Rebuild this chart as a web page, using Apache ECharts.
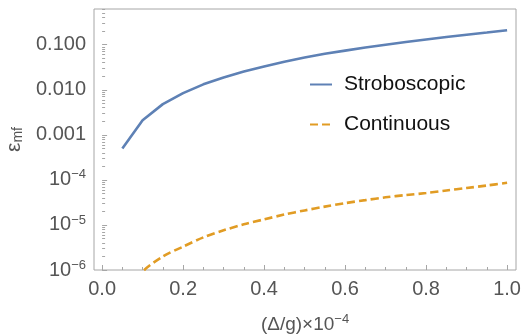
<!DOCTYPE html>
<html>
<head>
<meta charset="utf-8">
<script src="https://cdn.jsdelivr.net/npm/echarts@6/dist/echarts.min.js"></script>
<style>
  html, body { margin: 0; padding: 0; background: #fff; }
  #chart { width: 523px; height: 335px; }
</style>
</head>
<body>
<div id="chart"></div>
<script>
// x positions (Δ/g ×10^-4)
const xs = [0.05, 0.1, 0.15, 0.2, 0.25, 0.3, 0.35, 0.4, 0.45, 0.5,
  0.55, 0.6, 0.65, 0.7, 0.75, 0.8, 0.85, 0.9, 0.95, 1.0]
const strobo = [5.0e-4, 2.1e-3, 4.8e-3, 8.4e-3, 0.0132, 0.0188, 0.0255, 0.033, 0.042, 0.052,
  0.063, 0.074, 0.087, 0.1, 0.115, 0.131, 0.148, 0.166, 0.186, 0.21]
const cont = [2.3e-7, 9.2e-7, 2.0e-6, 3.3e-6, 5.3e-6, 7.6e-6, 1.03e-5, 1.33e-5, 1.7e-5, 2.1e-5,
  2.55e-5, 3.05e-5, 3.55e-5, 4.1e-5, 4.6e-5, 5.1e-5, 5.8e-5, 6.6e-5, 7.5e-5, 8.6e-5]

const xMajor = [0, 0.2, 0.4, 0.6, 0.8, 1.0]
const xMinor = [0.05, 0.1, 0.15, 0.25, 0.3, 0.35, 0.45, 0.5, 0.55, 0.65, 0.7, 0.75, 0.85, 0.9, 0.95]
const yMajor = [1e-6, 1e-5, 1e-4, 1e-3, 1e-2, 1e-1]
const yMinor = []
for (let k = -6; k <= -1; k++) {
  for (let m = 2; m <= 9; m++) {
    const v = m * Math.pow(10, k)
    if (v < 0.62) yMinor.push(v)
  }
}

const gray = '#a6a6a6'
const labelColor = '#555'
const font = 'Liberation Sans, Arial, sans-serif'

function yLabel(v) {
  const e = Math.round(Math.log10(v))
  if (e >= -3) return v.toFixed(3)
  return '10{sup|' + String(e).replace('-', '\u2212') + '}'
}

const chart = echarts.init(document.getElementById('chart'))

const baseX = {
  type: 'value',
  position: 'bottom',
  offset: 0,
  min: -0.02,
  max: 1.022,
  splitLine: { show: false },
  axisLine: { show: false }
}
const baseY = {
  type: 'log',
  logBase: 10,
  position: 'left',
  offset: 0,
  min: 1e-6,
  max: 0.62,
  splitLine: { show: false },
  axisLine: { show: false }
}

chart.setOption({
  animation: false,
  grid: {
    left: 94, right: 7, top: 9, bottom: 65,
    outerBoundsMode: 'none',
    containLabel: false,
    show: true, borderColor: gray, borderWidth: 1, backgroundColor: 'transparent'
  },
  legend: {
    orient: 'vertical',
    left: 304,
    top: 69,
    itemWidth: 22,
    itemHeight: 14,
    itemGap: 19,
    itemStyle: { opacity: 0 },
    textStyle: { fontSize: 21, color: '#111', fontFamily: font, padding: [0, 0, 0, 7] },
    data: ['Stroboscopic', 'Continuous']
  },
  xAxis: [
    Object.assign({}, baseX, {
      axisTick: { inside: true, length: 5, lineStyle: { color: gray }, customValues: xMajor },
      axisLabel: {
        customValues: xMajor, color: labelColor, fontSize: 20, fontFamily: font, margin: 9,
        formatter: v => v.toFixed(1)
      },
      name: '(\u0394/g)\u00d710{sup|\u22124}',
      nameLocation: 'middle',
      nameGap: 43,
      nameTextStyle: {
        color: labelColor, fontSize: 19, fontFamily: font,
        rich: { sup: { fontSize: 13, color: labelColor, fontFamily: font, padding: [0, 0, 10, 0] } }
      }
    }),
    Object.assign({}, baseX, {
      axisTick: { inside: true, length: 3, lineStyle: { color: gray }, customValues: xMinor },
      axisLabel: { show: false }
    })
  ],
  yAxis: [
    Object.assign({}, baseY, {
      axisTick: { inside: true, length: 5, lineStyle: { color: gray }, customValues: yMajor },
      axisLabel: {
        customValues: yMajor, color: labelColor, fontSize: 20, fontFamily: font, margin: 8,
        formatter: yLabel,
        rich: { sup: { fontSize: 13, color: labelColor, fontFamily: font, padding: [0, 0, 10, 0] } }
      },
      name: '\u03b5{sub|mf}',
      nameLocation: 'middle',
      nameRotate: 90,
      nameGap: 66,
      nameTextStyle: {
        color: labelColor, fontSize: 21, fontFamily: font,
        rich: { sub: { fontSize: 14, color: labelColor, fontFamily: font, padding: [8, 0, 0, 0] } }
      }
    }),
    Object.assign({}, baseY, {
      axisTick: { inside: true, length: 3, lineStyle: { color: gray }, customValues: yMinor },
      axisLabel: { show: false }
    })
  ],
  series: [
    {
      name: 'Stroboscopic',
      type: 'line',
      data: xs.map((x, i) => [x, strobo[i]]),
      showSymbol: false,
      symbol: 'none',
      clip: true,
      itemStyle: { color: '#5e81b5' },
      lineStyle: { color: '#5e81b5', width: 2.6 }
    },
    {
      name: 'Continuous',
      type: 'line',
      data: xs.map((x, i) => [x, cont[i]]),
      showSymbol: false,
      symbol: 'none',
      clip: true,
      smooth: 0.3,
      itemStyle: { color: '#e19c24' },
      lineStyle: { color: '#e19c24', width: 2.6, type: [8, 4] }
    }
  ]
})
</script>
</body>
</html>
